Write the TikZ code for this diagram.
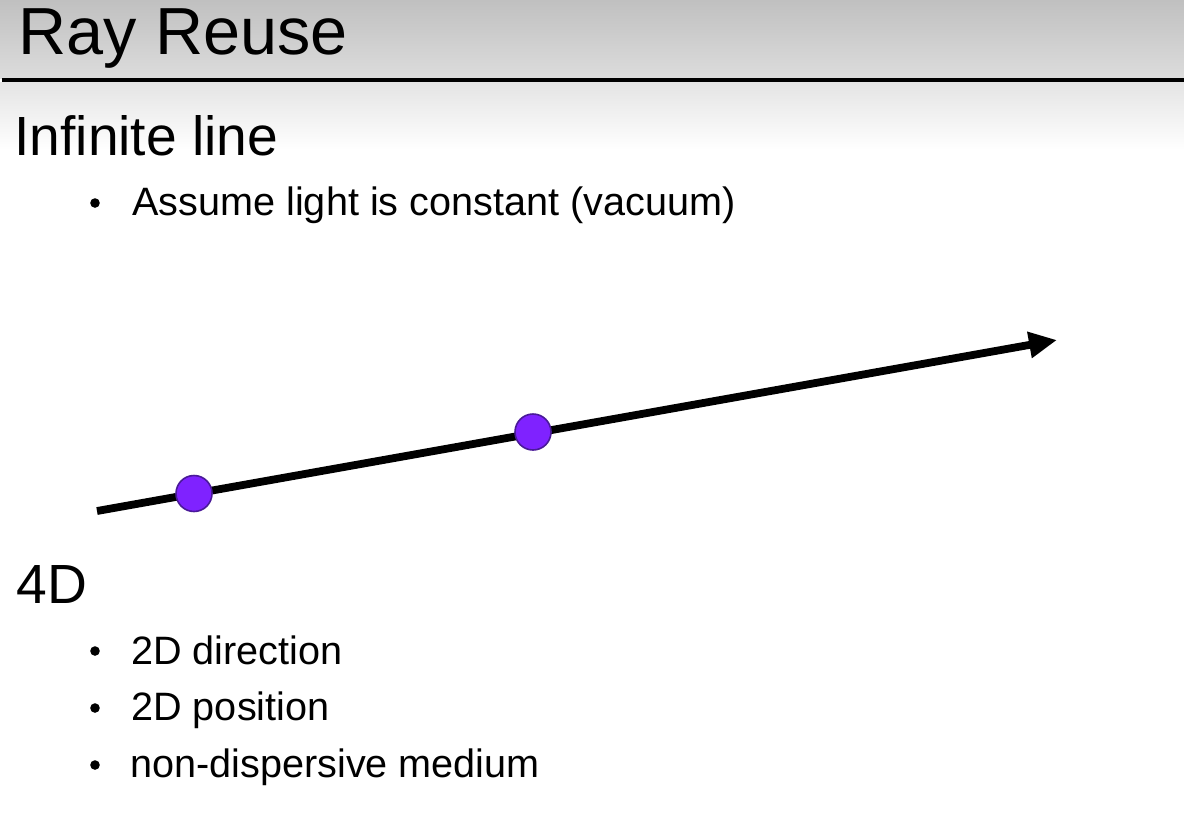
\documentclass[tikz,border=0pt]{standalone}
\usepackage{fontspec}
\setmainfont{Liberation Sans}
\usetikzlibrary{arrows.meta}
\definecolor{dotfill}{HTML}{7F22FF}
\definecolor{dotline}{HTML}{4A1A99}
\definecolor{bartop}{HTML}{C0C0C0}
\definecolor{barbot}{HTML}{DCDCDC}
\definecolor{fadetop}{HTML}{E4E4E4}
\tikzset{
  titletext/.style={anchor=base west,inner sep=0pt,font=\fontsize{33.3}{40}\selectfont},
  headtext/.style={anchor=base west,inner sep=0pt,font=\fontsize{27.6}{32}\selectfont},
  itemtext/.style={anchor=base west,inner sep=0pt,font=\fontsize{19.8}{24}\selectfont},
  bulletdot/.style={circle,fill=black,inner sep=0pt,minimum size=4.8pt},
  raydot/.style={circle,fill=dotfill,draw=dotline,line width=0.8pt,inner sep=0pt,minimum size=18pt},
  rayline/.style={line width=3.9pt,-{Triangle[length=14pt,width=12.5pt]}}
}
\begin{document}
\begin{tikzpicture}[x=0.5pt,y=-0.5pt]
\useasboundingbox (0,0) rectangle (1184,827);
\fill[white] (0,0) rectangle (1184,827);
% title bar
\shade[top color=bartop,bottom color=barbot] (0,0) rectangle (1184,78);
\shade[top color=fadetop,bottom color=white] (0,82) rectangle (1184,150);
\draw[line width=2pt,black] (2,80) -- (1184,80);
\node[titletext] (title) at (18,54) {Ray Reuse};
% section 1
\node[headtext] (h1) at (14,155) {Infinite line};
\node[bulletdot] (b1) at (95,203) {};
\node[itemtext] (t1) at (132,215) {Assume light is constant (vacuum)};
% ray
\coordinate (rs) at (97,511);
\coordinate (re) at (1057,340);
\draw[rayline] (rs) -- (re);
\node[raydot] (p1) at (194,493.5) {};
\node[raydot] (p2) at (533,432) {};
% section 2
\node[headtext] (h2) at (16,603) {4D};
\node[bulletdot] (b2) at (95,651) {};
\node[itemtext] (t2) at (131,664) {2D direction};
\node[bulletdot] (b3) at (95,708) {};
\node[itemtext] (t3) at (131,720) {2D position};
\node[bulletdot] (b4) at (95,765) {};
\node[itemtext] (t4) at (130,777) {non-dispersive medium};
\end{tikzpicture}
\end{document}
